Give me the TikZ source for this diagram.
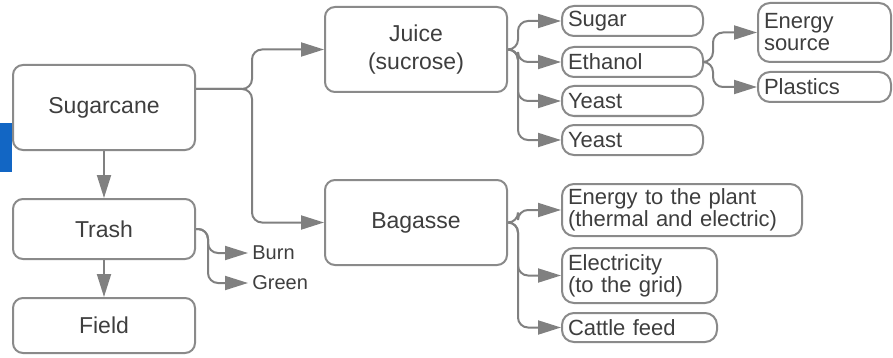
\documentclass[tikz,border=0pt]{standalone}
\usepackage{fontspec}
\setmainfont{Liberation Sans}
\usetikzlibrary{positioning, arrows.meta, calc}
\definecolor{linegray}{RGB}{128,128,128}
\definecolor{boxgray}{RGB}{138,138,138}
\definecolor{textgray}{RGB}{62,62,62}
\definecolor{tabblue}{RGB}{18,102,196}
\tikzset{
	mainbox/.style={draw=boxgray, line width=1pt, rounded corners=5pt, minimum width=91pt, text=textgray, align=center, font=\fontsize{11.5}{14}\selectfont},
	itembox/.style={draw=boxgray, line width=1pt, rounded corners=6pt, align=left, inner xsep=3pt, inner ysep=0pt, text=textgray, font=\fontsize{11}{11}\selectfont},
	flow/.style={draw=linegray, line width=1pt, rounded corners=5pt, -{Triangle[length=11.5pt, width=7pt]}},
	tag/.style={text=textgray, font=\fontsize{10}{10}\selectfont, inner sep=0pt, anchor=west}
}

\begin{document}
\begin{tikzpicture}[x=0.5pt, y=-0.5pt]
\useasboundingbox (0,0) rectangle (893,358);
\fill [tabblue] (0,123) rectangle (12,172);

% main column and products
\node [mainbox, minimum height=42.5pt] (sugarcane) at (104,107.5) {Sugarcane};
\node [mainbox, minimum height=30pt] (trash) at (104,229) {Trash};
\node [mainbox, minimum height=27.5pt] (field) at (104,325.5) {Field};
\node [mainbox, minimum height=42.5pt] (juice) at (416,49.5) {Juice\\(sucrose)};
\node [mainbox, minimum height=42.5pt] (bagasse) at (416,222.5) {Bagasse};

\node [itembox, text width=64.5pt, minimum height=15pt] (sugar) at (632.5,21) {Sugar};
\node [itembox, text width=64.5pt, minimum height=15pt] (ethanol) at (632.5,62) {Ethanol};
\node [itembox, text width=64.5pt, minimum height=15pt] (yeastA) at (632.5,101) {Yeast};
\node [itembox, text width=64.5pt, minimum height=15pt] (yeastB) at (632.5,140) {Yeast};
\node [itembox, text width=60.5pt, minimum height=29.5pt] (energysrc) at (824.5,32.5) {Energy\\source};
\node [itembox, text width=60.5pt, minimum height=15pt] (plastics) at (824.5,87) {Plastics};
\node [itembox, text width=114pt, minimum height=26pt] (plant) at (682,210) {Energy to the plant\\(thermal and electric)};
\node [itembox, text width=71.5pt, minimum height=27.5pt] (grid) at (639.5,275.5) {Electricity\\(to the grid)};
\node [itembox, text width=71.5pt, minimum height=14.5pt] (cattle) at (639.5,327.5) {Cattle feed};

\node [tag] (burn) at (252,253) {Burn};
\node [tag] (green) at (252,283) {Green};

% junctions
\coordinate (sugJ) at (252,89);
\coordinate (juiceJ) at (518,49.5);
\coordinate (ethJ) at (713,62);
\coordinate (bagJ) at (518,222.5);
\coordinate (trashJ) at (208,229);

\draw [flow] (sugarcane.south) -- (trash.north);
\draw [flow] (trash.south) -- (field.north);
\foreach \t in {juice, bagasse}
	\draw [flow] (sugarcane.east |- sugJ) -- (sugJ) |- (\t.west);
\foreach \t in {sugar, ethanol, yeastA, yeastB}
	\draw [flow] (juice.east) -- (juiceJ) |- (\t.west);
\foreach \t in {energysrc, plastics}
	\draw [flow] (ethanol.east) -- (ethJ) |- (\t.west);
\foreach \t in {plant, grid, cattle}
	\draw [flow] (bagasse.east) -- (bagJ) |- (\t.west);
\foreach \t in {burn, green}
	\draw [flow] (trash.east) -- (trashJ) |- ([xshift=-2pt]\t.west);
\end{tikzpicture}
\end{document}
